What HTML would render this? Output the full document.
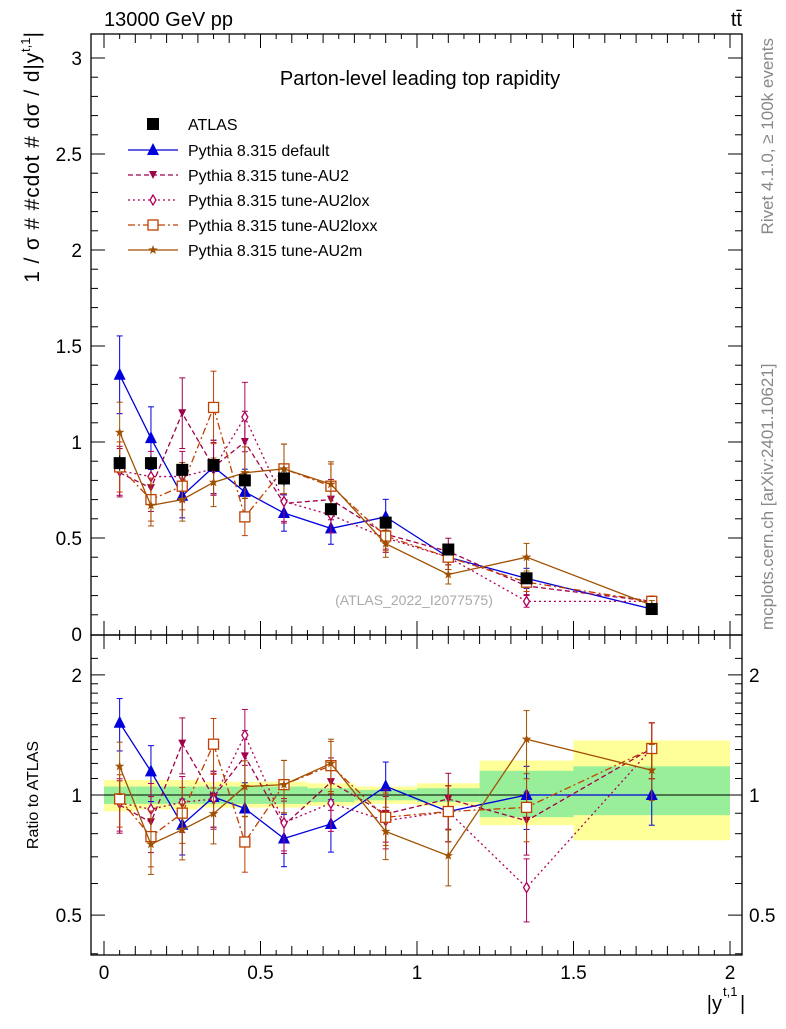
<!DOCTYPE html>
<html><head><meta charset="utf-8"><style>
body{margin:0;background:#fff;font-family:"Liberation Sans",sans-serif}
svg text{font-family:"Liberation Sans","DejaVu Sans",sans-serif}
</style></head><body>
<svg id="c" width="786" height="1024" xmlns="http://www.w3.org/2000/svg"></svg>
<script>
const binEdges=[0,0.1,0.2,0.3,0.4,0.5,0.65,0.8,1.0,1.2,1.5,2.0];
const xCenters=[0.05,0.15,0.25,0.35,0.45,0.575,0.725,0.9,1.1,1.35,1.75];
const atlas=[0.89,0.89,0.855,0.88,0.80,0.81,0.65,0.58,0.44,0.29,0.13];
const atlasErr=[0.04,0.04,0.04,0.04,0.04,0.04,0.03,0.03,0.025,0.02,0.015];
const bandYellowLo=[0.91,0.92,0.92,0.93,0.93,0.93,0.94,0.95,0.94,0.84,0.77];
const bandYellowHi=[1.09,1.09,1.09,1.08,1.08,1.08,1.07,1.05,1.07,1.22,1.37];
const bandGreenLo=[0.95,0.95,0.95,0.95,0.95,0.95,0.96,0.97,0.96,0.88,0.89];
const bandGreenHi=[1.05,1.05,1.05,1.05,1.05,1.05,1.04,1.03,1.04,1.15,1.18];
const sDefault=[1.35,1.02,0.72,0.87,0.74,0.63,0.55,0.61,0.40,0.29,0.13];
const sAU2=[0.84,0.76,1.15,0.87,1.0,0.68,0.70,0.52,0.43,0.25,0.17];
const sAU2lox=[0.85,0.82,0.82,0.86,1.13,0.69,0.62,0.50,0.40,0.17,0.17];
const sAU2loxx=[0.87,0.70,0.77,1.18,0.61,0.86,0.77,0.51,0.40,0.27,0.17];
const sAU2m=[1.05,0.67,0.70,0.79,0.84,0.86,0.78,0.47,0.31,0.40,0.15];
const mcErrFrac=[0.15,0.16,0.16,0.16,0.16,0.15,0.15,0.15,0.16,0.18,0.16];
const yTicks=[0.5,1,1.5,2,2.5,3];
const rTicks=[0.5,1,2];
const xTicks=[0,0.5,1,1.5,2];

const svg=document.getElementById('c');const NS='http://www.w3.org/2000/svg';
function el(t,a,p){const e=document.createElementNS(NS,t);for(const k in a)e.setAttribute(k,a[k]);(p||svg).appendChild(e);return e;}
const L=91,R=742,T=34,M=635,B=955;
const X=v=>104+v*313;
const Y=v=>634-v*192;
const RY=v=>795-399*Math.log10(v);

for(let i=0;i<xCenters.length;i++){
 let r=el('rect',{x:X(binEdges[i]),width:X(binEdges[i+1])-X(binEdges[i]),y:RY(bandYellowHi[i]),height:RY(bandYellowLo[i])-RY(bandYellowHi[i]),fill:'#ffff99'});
 
 let g=el('rect',{x:X(binEdges[i]),width:X(binEdges[i+1])-X(binEdges[i]),y:RY(bandGreenHi[i]),height:RY(bandGreenLo[i])-RY(bandGreenHi[i]),fill:'#99ee99'});
 
}
el('line',{x1:L,x2:R,y1:RY(1),y2:RY(1),stroke:'#000'});

el('rect',{x:L,y:T,width:R-L,height:M-T,fill:'none',stroke:'#000','stroke-width':1.3});
el('rect',{x:L,y:M,width:R-L,height:B-M,fill:'none',stroke:'#000','stroke-width':1.3});
yTicks.forEach(v=>{const y=Y(v);el('line',{x1:L,x2:L+14,y1:y,y2:y,stroke:'#000'});el('line',{x1:R,x2:R-14,y1:y,y2:y,stroke:'#000'});
 const t=el('text',{x:L-9,y:y+7,'text-anchor':'end','font-size':19});t.textContent=v;});
for(let k=1;k<31;k++){const y=Y(k/10);el('line',{x1:L,x2:L+7,y1:y,y2:y,stroke:'#000'});el('line',{x1:R,x2:R-7,y1:y,y2:y,stroke:'#000'});}
{const t=el('text',{x:L-9,y:641,'text-anchor':'end','font-size':19});t.textContent='0';}
rTicks.forEach(v=>{const y=RY(v);el('line',{x1:L,x2:L+14,y1:y,y2:y,stroke:'#000'});el('line',{x1:R,x2:R-14,y1:y,y2:y,stroke:'#000'});
 const t=el('text',{x:L-9,y:y+7,'text-anchor':'end','font-size':19});t.textContent=v;
 const t2=el('text',{x:R+7,y:y+7,'font-size':19});t2.textContent=v;});
[0.4,0.6,0.7,0.8,0.9,1.1,1.2,1.3,1.4,1.5,1.6,1.7,1.8,1.9,2.2].forEach(v=>{const y=RY(v);if(y>M&&y<B){el('line',{x1:L,x2:L+7,y1:y,y2:y,stroke:'#000'});el('line',{x1:R,x2:R-7,y1:y,y2:y,stroke:'#000'});}});
xTicks.forEach(v=>{const x=X(v);[[T,T+14],[M-14,M],[M,M+14],[B-14,B]].forEach(a=>el('line',{x1:x,x2:x,y1:a[0],y2:a[1],stroke:'#000'}));
 const t=el('text',{x:x,y:979,'text-anchor':'middle','font-size':19});t.textContent=v;});
for(let k=-2;k<=42;k++){const v=k*0.05,x=X(v);if(x<=L||x>=R)continue;const h=k%2?5:9;[[T,T+h],[M-h,M],[M,M+h],[B-h,B]].forEach(a=>el('line',{x1:x,x2:x,y1:a[0],y2:a[1],stroke:'#000'}));}

const tx=(s,a,n)=>{const t=el('text',a);t.textContent=s;return t;};
tx('13000 GeV pp',{x:104,y:26,'font-size':20},'beam-label');
tx('tt̄',{x:742,y:26,'font-size':20,'text-anchor':'end'},'process-label');
tx('Parton-level leading top rapidity',{x:420,y:85,'font-size':20,'text-anchor':'middle'},'plot-title');
{const t=el('text',{x:0,y:0,'font-size':21,transform:'translate(39,32) rotate(-90)','text-anchor':'end'});
 
 const a=el('tspan',{'textLength':230},t);a.textContent='1 / σ # #cdot # dσ / d|y';
 const b=el('tspan',{dy:-9,'font-size':13},t);b.textContent='t,1';
 const c=el('tspan',{dy:9},t);c.textContent='|';}
tx('Ratio to ATLAS',{x:0,y:0,'font-size':16,transform:'translate(38,795) rotate(-90)','text-anchor':'middle'},'ratio-axis-title');
tx('|y',{x:722,y:1010,'font-size':20,'text-anchor':'end'},'x-axis-title');
tx('t,1',{x:723,y:996,'font-size':13},'x-axis-sup');
tx('|',{x:740,y:1010,'font-size':20},'x-axis-bar');
tx('Rivet 4.1.0, ≥ 100k events',{x:0,y:0,'font-size':17,fill:'#888',transform:'translate(773,38) rotate(-90)','text-anchor':'end'},'rivet-label');
tx('mcplots.cern.ch [arXiv:2401.10621]',{x:0,y:0,'font-size':17,fill:'#888',transform:'translate(773,630) rotate(-90)','text-anchor':'start'},'mcplots-label');
tx('(ATLAS_2022_I2077575)',{x:414,y:605,'font-size':14,fill:'#aaa','text-anchor':'middle'},'analysis-id');

function marker(g,type,x,y,c){
 const s=6;
 if(type==='sq')el('rect',{x:x-s,y:y-s,width:2*s,height:2*s,fill:'#000'},g);
 if(type==='tri')el('polygon',{points:`${x},${y-s-1} ${x-s},${y+s-1} ${x+s},${y+s-1}`,fill:c},g);
 if(type==='itri')el('polygon',{points:`${x},${y+4} ${x-4},${y-4} ${x+4},${y-4}`,fill:c},g);
 if(type==='dia')el('polygon',{points:`${x},${y-5} ${x-3},${y} ${x},${y+5} ${x+3},${y}`,fill:'#fff',stroke:c,'stroke-width':1.3},g);
 if(type==='osq')el('rect',{x:x-5,y:y-5,width:10,height:10,fill:'#fff',stroke:c,'stroke-width':1.3},g);
 if(type==='star'){let p=[];for(let k=0;k<10;k++){const r=k%2?2:5,a=-Math.PI/2+k*Math.PI/5;p.push((x+r*Math.cos(a))+','+(y+r*Math.sin(a)));}el('polygon',{points:p.join(' '),fill:c},g);}
}
const series=[
 {d:sDefault,c:'#0000dd',m:'tri',dash:'',name:'Pythia 8.315 default'},
 {d:sAU2,c:'#a0004a',m:'itri',dash:'5,3',name:'Pythia 8.315 tune-AU2'},
 {d:sAU2lox,c:'#b0005a',m:'dia',dash:'2,3',name:'Pythia 8.315 tune-AU2lox'},
 {d:sAU2loxx,c:'#c04000',m:'osq',dash:'7,3,2,3',name:'Pythia 8.315 tune-AU2loxx'},
 {d:sAU2m,c:'#a05000',m:'star',dash:'',name:'Pythia 8.315 tune-AU2m'}];
series.forEach((s,si)=>{
 const g=el('g',{});
 el('polyline',{points:xCenters.map((x,i)=>X(x)+','+Y(s.d[i])).join(' '),fill:'none',stroke:s.c,'stroke-width':1.3,'stroke-dasharray':s.dash},g);
 el('polyline',{points:xCenters.map((x,i)=>X(x)+','+RY(s.d[i]/atlas[i])).join(' '),fill:'none',stroke:s.c,'stroke-width':1.3,'stroke-dasharray':s.dash},g);
 xCenters.forEach((x,i)=>{const e=s.d[i]*mcErrFrac[i],r=s.d[i]/atlas[i];
  el('line',{x1:X(x),x2:X(x),y1:Y(s.d[i]-e),y2:Y(s.d[i]+e),stroke:s.c},g);
  el('line',{x1:X(x),x2:X(x),y1:RY(r*(1-mcErrFrac[i])),y2:RY(r*(1+mcErrFrac[i])),stroke:s.c},g);
  [Y(s.d[i]-e),Y(s.d[i]+e),RY(r*(1-mcErrFrac[i])),RY(r*(1+mcErrFrac[i]))].forEach(y=>el('line',{x1:X(x)-3,x2:X(x)+3,y1:y,y2:y,stroke:s.c},g));
  marker(g,s.m,X(x),Y(s.d[i]),s.c);marker(g,s.m,X(x),RY(r),s.c);});
});
const ga=el('g',{});
xCenters.forEach((x,i)=>{el('line',{x1:X(x),x2:X(x),y1:Y(atlas[i]-atlasErr[i]),y2:Y(atlas[i]+atlasErr[i]),stroke:'#000'},ga);marker(ga,'sq',X(x),Y(atlas[i]));});
const lg=el('g',{});
marker(lg,'sq',153,124);tx('ATLAS',{x:188,y:130,'font-size':16},'legend-atlas');
series.forEach((s,i)=>{const y=150+i*25;
 el('line',{x1:128,x2:178,y1:y,y2:y,stroke:s.c,'stroke-width':1.3,'stroke-dasharray':s.dash},lg);
 marker(lg,s.m,153,y,s.c);tx(s.name,{x:188,y:y+6,'font-size':16},'legend-entry');});
</script>
</body></html>
